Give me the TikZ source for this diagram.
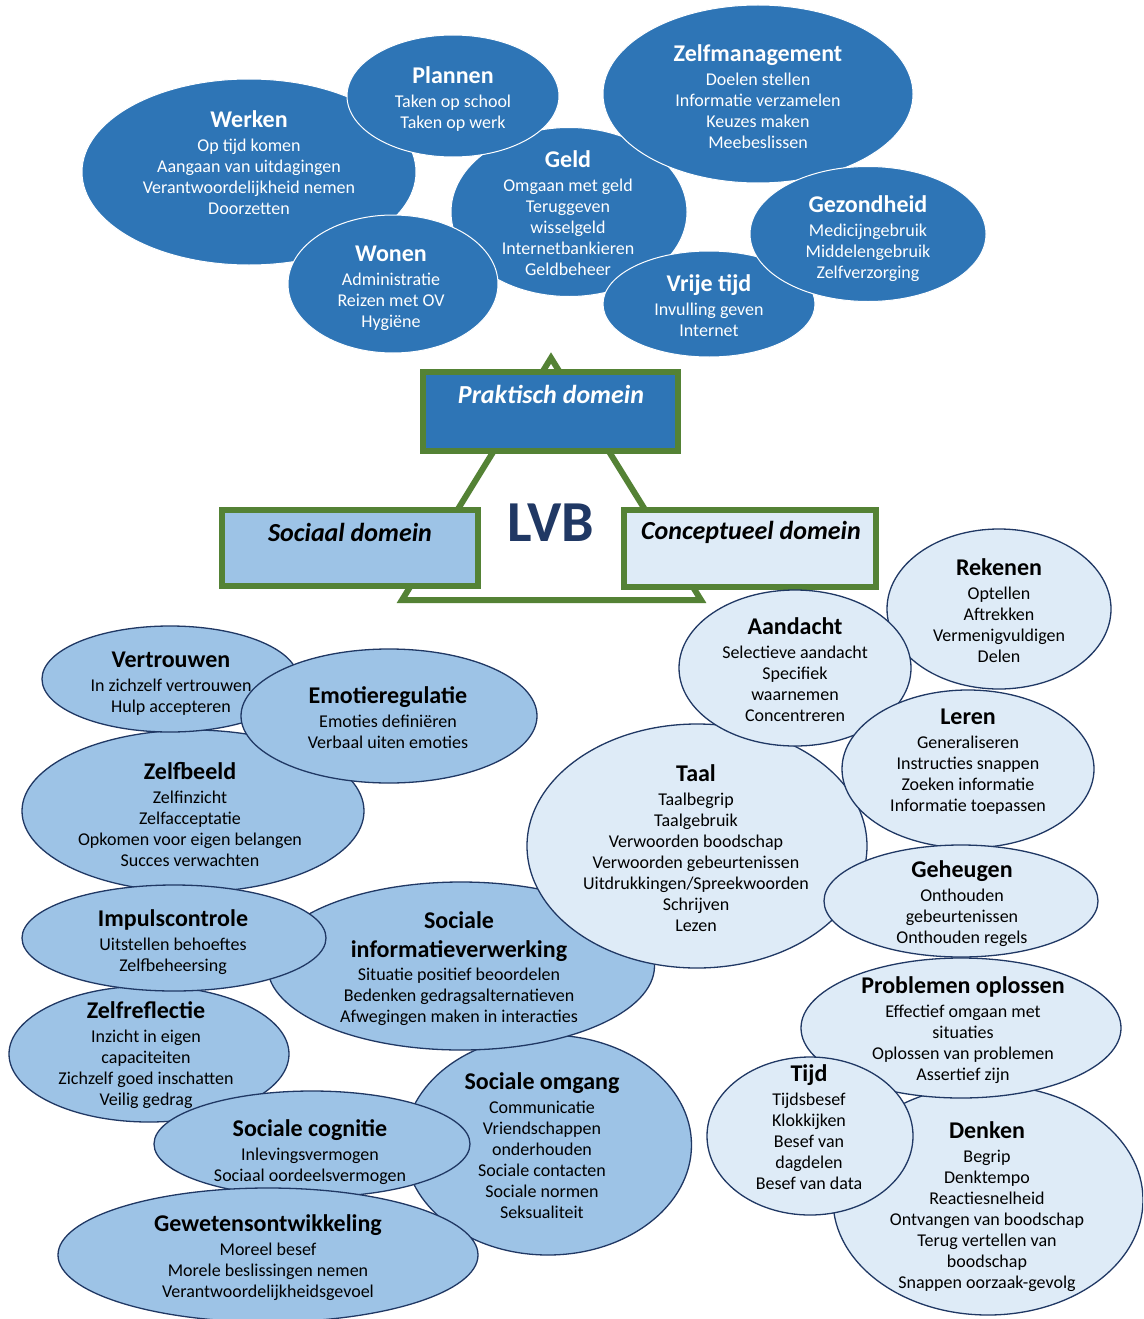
\documentclass[tikz,border=0pt]{standalone}
\usepackage{fontspec}
\setmainfont{Carlito}
\usetikzlibrary{shapes.geometric}
\definecolor{dkblue}{HTML}{2E75B6}
\definecolor{midblue}{HTML}{9DC3E6}
\definecolor{ltblue}{HTML}{DEEBF7}
\definecolor{navy}{HTML}{203864}
\definecolor{grn}{HTML}{548235}
\newcommand\ttl[1]{{\fontsize{24}{24}\selectfont\bfseries\rule{0pt}{18pt}#1}}
\tikzset{
  topE/.style={ellipse, draw=white, line width=1pt, fill=dkblue, inner sep=0pt},
  socE/.style={ellipse, draw=navy, line width=1.3pt, fill=midblue, inner sep=0pt},
  conE/.style={ellipse, draw=navy, line width=1.3pt, fill=ltblue, inner sep=0pt},
  txt/.style={align=center, inner sep=0pt, anchor=north, font=\fontsize{18}{21}\selectfont},
  wtxt/.style={txt, text=white},
  dombox/.style={draw=grn, line width=6pt, inner sep=0pt},
  domtxt/.style={font=\fontsize{26}{26}\selectfont\bfseries\itshape, inner sep=0pt}
}
\begin{document}
\begin{tikzpicture}[x=1pt, y=-1pt]
\useasboundingbox (0,0) rectangle (1143,1319);
\clip (0,0) rectangle (1143,1319);
\fill[white] (0,0) rectangle (1143,1319);

% ---------- practical domain (top) ----------
\node[topE, minimum width=334pt, minimum height=186pt] (werken) at (249,172) {};
\node[topE, minimum width=236pt, minimum height=169pt] (geld) at (569,212) {};
\node[topE, minimum width=212pt, minimum height=122pt] (plannen) at (453,96) {};
\node[topE, minimum width=310pt, minimum height=178pt] (zelfm) at (758,94) {};
\node[topE, minimum width=210pt, minimum height=138pt] (wonen) at (393,284) {};
\node[topE, minimum width=212pt, minimum height=106pt] (vrij) at (709,304) {};
\node[topE, minimum width=236pt, minimum height=135pt] (gezond) at (868,234) {};

% ---------- triangle and domain boxes ----------
\coordinate (apex) at (551,358);
\coordinate (bl) at (402,600);
\coordinate (br) at (701,600);
\draw[grn, line width=6pt] (apex) -- (br) -- (bl) -- cycle;
\node[dombox, fill=dkblue, minimum width=255pt, minimum height=79pt] (prak) at (550.5,411.5) {};
\node[dombox, fill=midblue, minimum width=256pt, minimum height=76pt] (soc) at (350,548) {};
\node[dombox, fill=ltblue, minimum width=252pt, minimum height=77pt] (con) at (750,548.5) {};
\node[domtxt, text=white] (prakT) at (551,394) {Praktisch domein};
\node[domtxt] (socT) at (350,532) {Sociaal domein};
\node[domtxt] (conT) at (751,532) {Conceptueel domein};
\node[font=\fontsize{58}{58}\selectfont\bfseries, text=navy, inner sep=0pt] (lvb) at (551,523) {LVB};

% ---------- social domain ----------
\node[socE, minimum width=342pt, minimum height=162pt] (zelfb) at (193,811) {};
\node[socE, minimum width=256pt, minimum height=106pt] (vertr) at (170,679) {};
\node[socE, minimum width=296pt, minimum height=134pt] (emot) at (389,716) {};
\node[socE, minimum width=280pt, minimum height=136pt] (zelfr) at (149,1054) {};
\node[socE, minimum width=287pt, minimum height=220pt] (somg) at (548,1145) {};
\node[socE, minimum width=387pt, minimum height=168pt] (sinfo) at (461,966) {};
\node[socE, minimum width=304pt, minimum height=106pt] (impuls) at (174,938) {};
\node[socE, minimum width=316pt, minimum height=106pt] (scog) at (312,1144) {};
\node[socE, minimum width=420pt, minimum height=134pt] (gewet) at (268,1255) {};

% ---------- conceptual domain ----------
\node[conE, minimum width=340pt, minimum height=244pt] (taal) at (697,846) {};
\node[conE, minimum width=224pt, minimum height=160pt] (reken) at (999,609) {};
\node[conE, minimum width=232pt, minimum height=156pt] (aand) at (795,668) {};
\node[conE, minimum width=252pt, minimum height=158pt] (leren) at (968,769) {};
\node[conE, minimum width=274pt, minimum height=112pt] (geheug) at (961,901) {};
\node[conE, minimum width=310pt, minimum height=230pt] (denken) at (988,1200) {};
\node[conE, minimum width=320pt, minimum height=140pt] (probl) at (961,1028) {};
\node[conE, minimum width=206pt, minimum height=158pt] (tijd) at (810,1136) {};

% ---------- texts: practical ----------
\node[wtxt] (werkenT) at (249,109) {\ttl{Werken}\\[3pt] Op tijd komen\\ Aangaan van uitdagingen\\ Verantwoordelijkheid nemen\\ Doorzetten};
\node[wtxt] (plannenT) at (453,65) {\ttl{Plannen}\\[3pt] Taken op school\\ Taken op werk};
\node[wtxt] (zelfmT) at (758,43) {\ttl{Zelfmanagement}\\[3pt] Doelen stellen\\ Informatie verzamelen\\ Keuzes maken\\ Meebeslissen};
\node[wtxt] (geldT) at (568,149) {\ttl{Geld}\\[3pt] Omgaan met geld\\ Teruggeven\\ wisselgeld\\ Internetbankieren\\ Geldbeheer};
\node[wtxt] (gezondT) at (868,194) {\ttl{Gezondheid}\\[3pt] Medicijngebruik\\ Middelengebruik\\ Zelfverzorging};
\node[wtxt] (wonenT) at (391,243) {\ttl{Wonen}\\[3pt] Administratie\\ Reizen met OV\\ Hygiëne};
\node[wtxt] (vrijT) at (709,273) {\ttl{Vrije tijd}\\[3pt] Invulling geven\\ Internet};

% ---------- texts: social ----------
\node[txt] (vertrT) at (171,649) {\ttl{Vertrouwen}\\[3pt] In zichzelf vertrouwen\\ Hulp accepteren};
\node[txt] (emotT) at (388,685) {\ttl{Emotieregulatie}\\[3pt] Emoties definiëren\\ Verbaal uiten emoties};
\node[txt] (zelfbT) at (190,761) {\ttl{Zelfbeeld}\\[3pt] Zelfinzicht\\ Zelfacceptatie\\ Opkomen voor eigen belangen\\ Succes verwachten};
\node[txt] (impulsT) at (173,908) {\ttl{Impulscontrole}\\[3pt] Uitstellen behoeftes\\ Zelfbeheersing};
\node[txt] (sinfoT) at (459,910) {\ttl{Sociale}\\[8pt] \ttl{informatieverwerking}\\[2pt] Situatie positief beoordelen\\ Bedenken gedragsalternatieven\\ Afwegingen maken in interacties};
\node[txt] (zelfrT) at (146,1000) {\ttl{Zelfreflectie}\\[3pt] Inzicht in eigen\\ capaciteiten\\ Zichzelf goed inschatten\\ Veilig gedrag};
\node[txt] (somgT) at (542,1071) {\ttl{Sociale omgang}\\[3pt] Communicatie\\ Vriendschappen\\ onderhouden\\ Sociale contacten\\ Sociale normen\\ Seksualiteit};
\node[txt] (scogT) at (310,1118) {\ttl{Sociale cognitie}\\[3pt] Inlevingsvermogen\\ Sociaal oordeelsvermogen};
\node[txt] (gewetT) at (268,1213) {\ttl{Gewetensontwikkeling}\\[3pt] Moreel besef\\ Morele beslissingen nemen\\ Verantwoordelijkheidsgevoel};

% ---------- texts: conceptual ----------
\node[txt] (rekenT) at (999,557) {\ttl{Rekenen}\\[3pt] Optellen\\ Aftrekken\\ Vermenigvuldigen\\ Delen};
\node[txt] (aandT) at (795,616) {\ttl{Aandacht}\\[3pt] Selectieve aandacht\\ Specifiek\\ waarnemen\\ Concentreren};
\node[txt] (lerenT) at (968,706) {\ttl{Leren}\\[3pt] Generaliseren\\ Instructies snappen\\ Zoeken informatie\\ Informatie toepassen};
\node[txt] (taalT) at (696,763) {\ttl{Taal}\\[3pt] Taalbegrip\\ Taalgebruik\\ Verwoorden boodschap\\ Verwoorden gebeurtenissen\\ Uitdrukkingen/Spreekwoorden\\ Schrijven\\ Lezen};
\node[txt] (geheugT) at (962,859) {\ttl{Geheugen}\\[3pt] Onthouden\\ gebeurtenissen\\ Onthouden regels};
\node[txt] (problT) at (963,975) {\ttl{Problemen oplossen}\\[3pt] Effectief omgaan met\\ situaties\\ Oplossen van problemen\\ Assertief zijn};
\node[txt] (tijdT) at (809,1063) {\ttl{Tijd}\\[3pt] Tijdsbesef\\ Klokkijken\\ Besef van\\ dagdelen\\ Besef van data};
\node[txt] (denkenT) at (987,1120) {\ttl{Denken}\\[3pt] Begrip\\ Denktempo\\ Reactiesnelheid\\ Ontvangen van boodschap\\ Terug vertellen van\\ boodschap\\ Snappen oorzaak-gevolg};
\end{tikzpicture}
\end{document}
